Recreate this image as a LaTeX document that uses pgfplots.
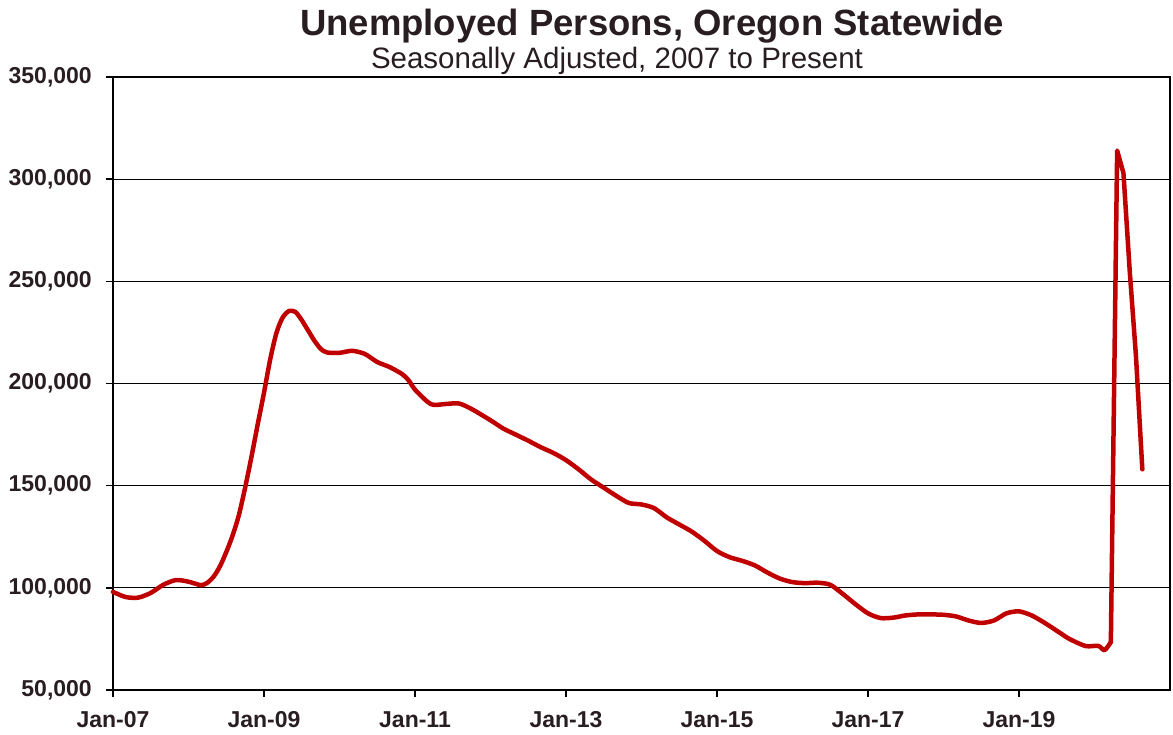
\documentclass[border=0pt]{standalone}
\usepackage{pgfplots}
\pgfplotsset{compat=1.18}
\usepackage{fontspec}
\setmainfont{Liberation Sans}
\definecolor{txt}{RGB}{40,30,33}
\definecolor{linered}{RGB}{192,0,0}
\begin{document}
\begin{tikzpicture}
\begin{axis}[
  at={(0,0)}, anchor=south west,
  scale only axis, width=1057pt, height=613pt,
  xmin=0, xmax=168, ymin=50000, ymax=350000,
  xtick={0,24,48,72,96,120,144},
  xticklabels={Jan-07,Jan-09,Jan-11,Jan-13,Jan-15,Jan-17,Jan-19},
  ytick={50000,100000,150000,200000,250000,300000,350000},
  yticklabels={{50,000},{100,000},{150,000},{200,000},{250,000},{300,000},{350,000}},
  scaled y ticks=false,
  ymajorgrids, grid style={black, line width=1.2pt},
  axis line style={black, line width=2.4pt},
  tick pos=left, tick align=outside, major tick length=7pt,
  tick style={black, line width=1.4pt},
  ticklabel style={font=\bfseries\fontsize{23}{23}\selectfont, text=txt},
  yticklabel style={anchor=east, inner sep=0pt, xshift=-14pt},
  xticklabel style={anchor=north, inner sep=0pt, yshift=-14pt},
  clip=false,
]
\addplot[linered, line width=4.5pt, smooth, tension=0.45, line join=round, line cap=round] coordinates {
(0,98000) (2,95500) (4,95200) (6,97500) (8,101500) (10,103800) (12,103000) (14,101300)
(15,102500) (16,105500) (17,110500) (18,117500) (19,125500) (20,135500) (21,149000) (22,164000) (23,180000)
(24,195500) (25,212000) (26,225000) (27,232500) (28,235500) (29,235000) (30,231000)
(31,226000) (32,221000) (33,217000) (34,215200) (36,215000) (38,216000) (40,214500)
(42,210500) (44,208000) (46,204500) (47,201500) (48,197000) (50,191000) (51,189500)
(53,190000) (55,190200) (57,187500) (60,182000) (62,178000) (64,175000) (66,172000)
(68,168800) (70,166000) (72,162500) (74,158000) (76,153000) (78,149000) (80,145000)
(82,141500) (84,140800) (86,139000) (88,134500) (90,131000) (92,127500) (94,123000)
(96,118000) (98,115000) (100,113200) (102,111000) (104,107500) (106,104500) (108,102800)
(110,102300) (112,102500) (114,101500) (116,97000) (118,92000) (120,87500) (122,85200)
(124,85400) (126,86500) (128,87000) (130,87000) (132,86800) (134,86000) (136,84000)
(138,82800) (140,84000) (142,87500) (144,88500) (146,86500) (148,83000) (150,79000)
(152,75000) (154.6,71500) (156.6,71600) (157.6,69500) (158.6,73500)
};
\addplot[linered, line width=4.5pt, line join=round, line cap=round] coordinates {
(158.6,73500) (159.6,314000) (160.6,303000) (161.6,255000) (162.6,213000) (163.6,158000)
};
\end{axis}
\node[anchor=base, text=txt, font=\bfseries\fontsize{36.5}{36.5}\selectfont] at (539pt,654pt) {Unemployed Persons, Oregon Statewide};
\node[anchor=base, text=txt, font=\fontsize{29.5}{29.5}\selectfont] at (504pt,621pt) {Seasonally Adjusted, 2007 to Present};
\pgfresetboundingbox
\path (-113pt,-45pt) rectangle (1060pt,690pt);
\end{tikzpicture}
\end{document}
